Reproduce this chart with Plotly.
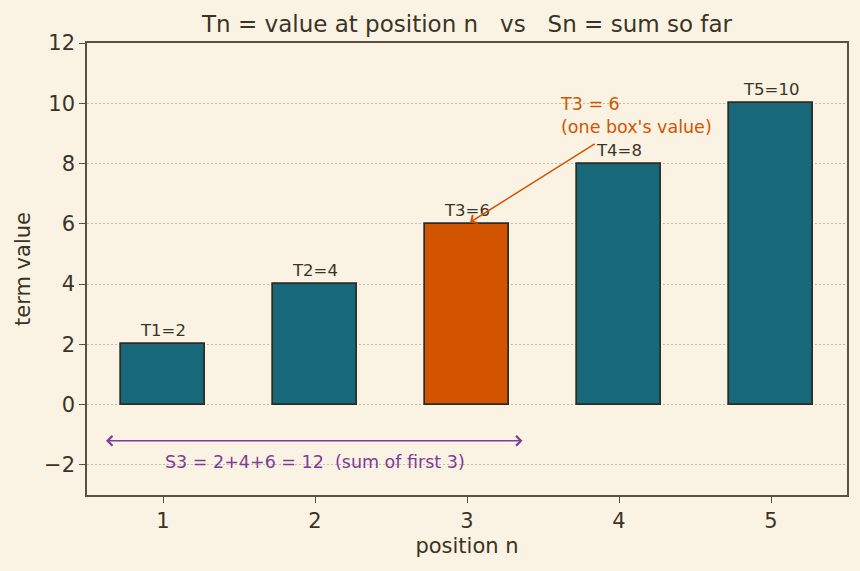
import plotly.graph_objects as go

positions = [1, 2, 3, 4, 5]
values = [2, 4, 6, 8, 10]
labels = ["T1=2", "T2=4", "T3=6", "T4=8", "T5=10"]
highlight_index = 2

BG = "#faf3e3"
TEAL = "#17697a"
ORANGE = "#d35400"
PURPLE = "#7d3c98"
TXT = "#3b3325"
SPINE = "#5a5040"
FONT = "DejaVu Sans"

colors = [ORANGE if i == highlight_index else TEAL for i in range(len(values))]

fig = go.Figure()
fig.add_trace(go.Bar(
    x=positions, y=values, width=0.55,
    marker=dict(color=colors, line=dict(color="#2f2a24", width=1.7)),
    hoverinfo="skip", showlegend=False,
))

annotations = []
for p, v, lab in zip(positions, values, labels):
    annotations.append(dict(x=p, y=v, text=lab, showarrow=False, yanchor="bottom",
                            yshift=2, font=dict(family=FONT, size=16.5, color=TXT)))

# purple double arrow for S3
annotations.append(dict(x=0.625, y=-1.2, ax=3.375, ay=-1.2, xref="x", yref="y",
                        axref="x", ayref="y", text="", showarrow=True,
                        arrowhead=4, arrowside="end+start", arrowwidth=1.6, arrowsize=1.2,
                        arrowcolor=PURPLE))
annotations.append(dict(x=2.0, y=-1.92, text="S3 = 2+4+6 = 12  (sum of first 3)", showarrow=False,
                        font=dict(family=FONT, size=17.5, color=PURPLE)))

# orange arrow for T3
annotations.append(dict(x=3.02, y=6.05, ax=3.85, ay=8.68, xref="x", yref="y",
                        axref="x", ayref="y", text="", showarrow=True,
                        arrowhead=4, arrowwidth=1.5, arrowsize=1.2, arrowcolor=ORANGE))
annotations.append(dict(x=3.6, y=9.6, text="T3 = 6<br>(one box's value)", showarrow=False,
                        xanchor="left", yanchor="middle", align="left",
                        font=dict(family=FONT, size=17.5, color=ORANGE)))

fig.update_layout(
    width=860, height=571,
    margin=dict(l=87, r=13, t=43, b=76),
    paper_bgcolor=BG, plot_bgcolor=BG,
    font=dict(family=FONT, color=TXT, size=21),
    title=dict(text="Tn = value at position n   vs   Sn = sum so far", x=0.5, xref="paper",
               xanchor="center", y=0.958, yanchor="middle",
               font=dict(family=FONT, size=23, color=TXT)),
    annotations=annotations,
    bargap=0,
)
fig.update_xaxes(range=[0.5, 5.5], tickvals=positions, ticktext=[str(p) for p in positions],
                 showgrid=False, zeroline=False, showline=True, linecolor=SPINE, linewidth=1.5,
                 mirror=True, ticks="outside", ticklen=6, tickcolor=SPINE, tickwidth=1.2,
                 tickfont=dict(size=21, color=TXT),
                 title=dict(text="position n", font=dict(size=21, color=TXT), standoff=6))
fig.update_yaxes(range=[-3, 12], tickvals=[-2, 0, 2, 4, 6, 8, 10, 12],
                 ticktext=["\u22122", "0", "2", "4", "6", "8", "10", "12"],
                 showgrid=True, gridcolor="#c4bcab", griddash="1.5px,2.5px", gridwidth=1,
                 zeroline=False, showline=True, linecolor=SPINE, linewidth=1.5,
                 mirror=True, ticks="outside", ticklen=6, tickcolor=SPINE, tickwidth=1.2,
                 tickfont=dict(size=21, color=TXT),
                 title=dict(text="term value", font=dict(size=21, color=TXT), standoff=8))

fig.write_html("out.html")
